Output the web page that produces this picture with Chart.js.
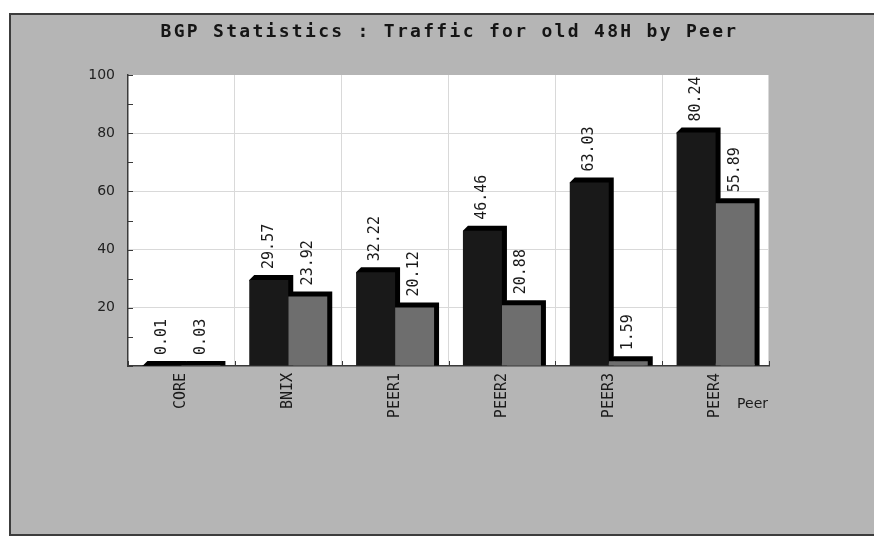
<!DOCTYPE html>
<html>
<head>
<meta charset="utf-8">
<script src="https://cdn.jsdelivr.net/npm/chart.js@4.4.1/dist/chart.umd.min.js"></script>
<style>
  html, body { margin: 0; padding: 0; background: #ffffff; }
  #wrap { width: 874px; height: 537px; position: relative; }
</style>
</head>
<body>
<div id="wrap"><canvas id="c" width="874" height="537"></canvas></div>
<script>
// Traffic per peer over the last 48 hours
const chartTitle = 'BGP Statistics : Traffic for old 48H by Peer';
const axisTitleX = 'Peer';
const peers = ['CORE', 'BNIX', 'PEER1', 'PEER2', 'PEER3', 'PEER4'];
const trafficA = [0.01, 29.57, 32.22, 46.46, 63.03, 80.24];
const trafficB = [0.03, 23.92, 20.12, 20.88, 1.59, 55.89];
const yLabelled = [20, 40, 60, 80, 100];

const DEPTH = 5;
const MONO = '"DejaVu Sans Mono", "Liberation Mono", monospace';
const SANS = '"DejaVu Sans", "Liberation Sans", sans-serif';

// grey panel with a dark frame, white plotting area
const panelPlugin = {
  id: 'panel',
  beforeDraw(chart) {
    const ctx = chart.ctx;
    const a = chart.chartArea;
    ctx.save();
    ctx.fillStyle = '#ffffff';
    ctx.fillRect(0, 0, chart.width, chart.height);
    ctx.fillStyle = '#b5b5b5';
    ctx.fillRect(10, 14, chart.width, 521);
    ctx.strokeStyle = '#3c3c3c';
    ctx.lineWidth = 2;
    ctx.strokeRect(10, 14, chart.width + 10, 521);
    ctx.fillStyle = '#ffffff';
    ctx.fillRect(a.left, a.top, a.right - a.left, a.bottom - a.top);
    ctx.restore();
  }
};

// black top and side faces giving each bar its depth
const depthPlugin = {
  id: 'depth',
  beforeDatasetsDraw(chart) {
    const ctx = chart.ctx;
    ctx.save();
    ctx.fillStyle = '#000000';
    chart.data.datasets.forEach((ds, di) => {
      chart.getDatasetMeta(di).data.forEach(el => {
        const p = el.getProps(['x', 'y', 'base', 'width'], true);
        const xl = p.x - p.width / 2, xr = p.x + p.width / 2;
        ctx.beginPath();
        ctx.moveTo(xl, p.y);
        ctx.lineTo(xl + DEPTH, p.y - DEPTH);
        ctx.lineTo(xr + DEPTH, p.y - DEPTH);
        ctx.lineTo(xr + DEPTH, p.base);
        ctx.lineTo(xr, p.base);
        ctx.closePath();
        ctx.fill();
      });
    });
    ctx.restore();
  }
};

// vertical value labels above the bars, inward tick marks, titles
const labelPlugin = {
  id: 'labels',
  afterDatasetsDraw(chart) {
    const ctx = chart.ctx;
    ctx.save();
    ctx.fillStyle = '#1a1a1a';
    ctx.font = '15px ' + MONO;
    ctx.textAlign = 'left';
    ctx.textBaseline = 'middle';
    chart.data.datasets.forEach((ds, di) => {
      chart.getDatasetMeta(di).data.forEach((el, i) => {
        const p = el.getProps(['x', 'y'], true);
        ctx.save();
        ctx.translate(p.x, p.y - DEPTH - 6);
        ctx.rotate(-Math.PI / 2);
        ctx.fillText(ds.data[i].toFixed(2), 0, 0);
        ctx.restore();
      });
    });
    ctx.restore();
  },
  afterDraw(chart) {
    const ctx = chart.ctx;
    const a = chart.chartArea;
    const ys = chart.scales.y;
    ctx.save();
    ctx.strokeStyle = '#3a3a3a';
    ctx.lineWidth = 1;
    ctx.beginPath();
    for (let v = 0; v <= 100; v += 10) {
      const y = Math.round(ys.getPixelForValue(v)) + 0.5;
      ctx.moveTo(a.left, y);
      ctx.lineTo(a.left + 5, y);
    }
    const n = peers.length;
    for (let i = 0; i <= n; i++) {
      const x = Math.round(a.left + i * (a.right - a.left) / n) + 0.5;
      ctx.moveTo(x, a.bottom);
      ctx.lineTo(x, a.bottom - 5);
    }
    ctx.stroke();

    ctx.fillStyle = '#151515';
    ctx.font = 'bold 18px ' + MONO;
    if ('letterSpacing' in ctx) ctx.letterSpacing = '2.3px';
    ctx.textAlign = 'center';
    ctx.textBaseline = 'middle';
    ctx.fillText(chartTitle, (a.left + a.right) / 2 + 1, 32);
    if ('letterSpacing' in ctx) ctx.letterSpacing = '0px';

    ctx.fillStyle = '#1a1a1a';
    ctx.font = '14px ' + SANS;
    ctx.textAlign = 'right';
    ctx.fillText(axisTitleX, a.right - 1, 404);
    ctx.restore();
  }
};

new Chart(document.getElementById('c'), {
  type: 'bar',
  data: {
    labels: peers,
    datasets: [
      { label: 'A', data: trafficA, backgroundColor: '#191919', borderWidth: 0 },
      { label: 'B', data: trafficB, backgroundColor: '#6e6e6e', borderWidth: 0 }
    ]
  },
  options: {
    responsive: false,
    animation: false,
    devicePixelRatio: 1,
    categoryPercentage: 0.73,
    barPercentage: 1.0,
    layout: { padding: { left: 20, right: 105, top: 75, bottom: 0 } },
    plugins: {
      legend: { display: false },
      tooltip: { enabled: false },
      title: { display: false }
    },
    scales: {
      x: {
        offset: true,
        grid: { offset: true, color: '#d9d9d9', drawTicks: false },
        border: { color: '#3a3a3a', width: 1.5 },
        ticks: {
          minRotation: 90, maxRotation: 90, padding: 7,
          color: '#1a1a1a', font: { family: MONO, size: 15 }
        },
        afterFit(s) { s.height = 171; }
      },
      y: {
        min: 0, max: 100,
        grid: {
          drawTicks: false,
          color: c => (c.tick && c.tick.value % 20 === 0 && c.tick.value > 0 && c.tick.value < 100) ? '#d9d9d9' : 'rgba(0,0,0,0)'
        },
        border: { color: '#3a3a3a', width: 1.5 },
        ticks: {
          stepSize: 10, padding: 13, autoSkip: false,
          color: '#222222', font: { family: SANS, size: 14 },
          callback: v => yLabelled.includes(v) ? String(v) : ''
        },
        afterFit(s) { s.width = 108; }
      }
    }
  },
  plugins: [panelPlugin, depthPlugin, labelPlugin]
});
</script>
</body>
</html>
